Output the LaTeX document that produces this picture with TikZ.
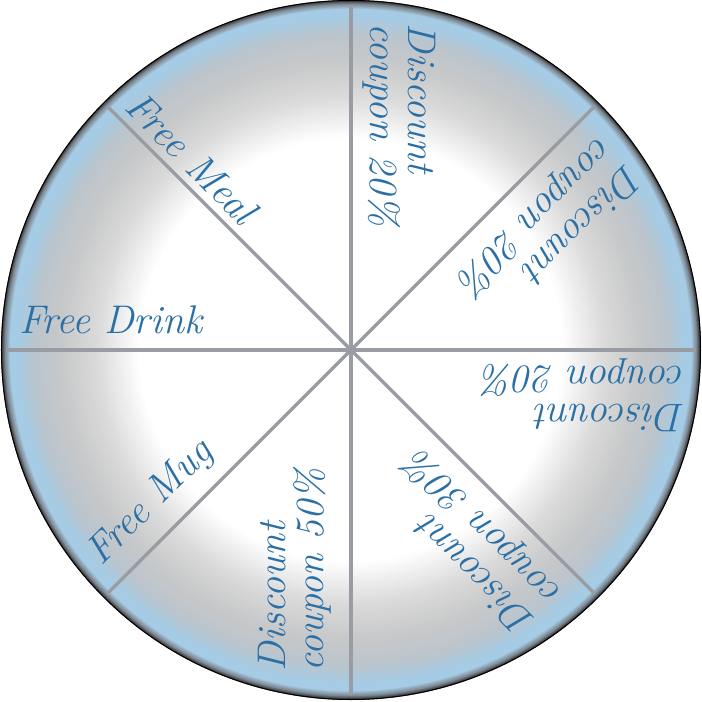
\documentclass[tikz,border=0pt]{standalone}
\definecolor{rimdark}{HTML}{2E2E2E}
\definecolor{rimgray}{HTML}{7E8993}
\definecolor{rimblue}{HTML}{A6CBE4}
\definecolor{bluegray}{HTML}{BBC5CD}
\definecolor{midgray}{HTML}{C7C8C9}
\definecolor{lgray}{HTML}{DADADA}
\definecolor{spokegray}{HTML}{9A9CA3}
\definecolor{textblue}{HTML}{2A6FA5}
\tikzset{
  spoke/.style={draw=spokegray, line width=3.5},
  lbl/.style={text=textblue, font=\itshape\fontsize{40}{38}\selectfont, align=left, inner sep=0pt}
}
\begin{document}
\begin{tikzpicture}[x=1pt,y=1pt]
\useasboundingbox (-351,-352) rectangle (351,350);
% radial gradient built from concentric discs, outermost first
\foreach \ra/\rb/\ca/\cb in {346/350/rimgray/rimdark, 341/346/rimblue/rimgray,
  333/341/rimblue/rimblue, 316/333/bluegray/rimblue, 290/316/midgray/bluegray,
  255/290/lgray/midgray, 212/255/white/lgray}{
  \pgfmathsetmacro{\nst}{int(ceil((\rb-\ra)/0.7))}
  \foreach \i in {0,...,\nst}{
    \pgfmathsetmacro{\rr}{\rb-\i*(\rb-\ra)/\nst}
    \pgfmathsetmacro{\pp}{100*(\rr-\ra)/(\rb-\ra)}
    \fill[color=\cb!\pp!\ca] (0,0) circle (\rr);
  }
}
\fill[white] (0,0) circle (212);
\draw[black, line width=1] (0,0) circle (349.5);
\coordinate (c) at (0,0);
\foreach \a in {0,45,...,315}{
  \coordinate (r\a) at (\a:345);
  \draw[spoke] (c) -- (r\a);
}
\node[lbl, rotate=-90] (l1) at (48,225) {Discount\\coupon 20\%};
\node[lbl, rotate=-135] (l2) at (197,122) {Discount\\coupon 20\%};
\node[lbl, rotate=180] (l3) at (233,-45) {Discount\\coupon 20\%};
\node[lbl, rotate=135] (l4) at (120,-191) {Discount\\coupon 30\%};
\node[lbl, rotate=90] (l5) at (-56,-220) {Discount\\coupon 50\%};
\node[lbl, rotate=45] (l6) at (-200,-153) {Free Mug};
\node[lbl] (l7) at (-240,30) {Free Drink};
\node[lbl, rotate=-45] (l8) at (-159,192) {Free Meal};
\end{tikzpicture}
\end{document}
